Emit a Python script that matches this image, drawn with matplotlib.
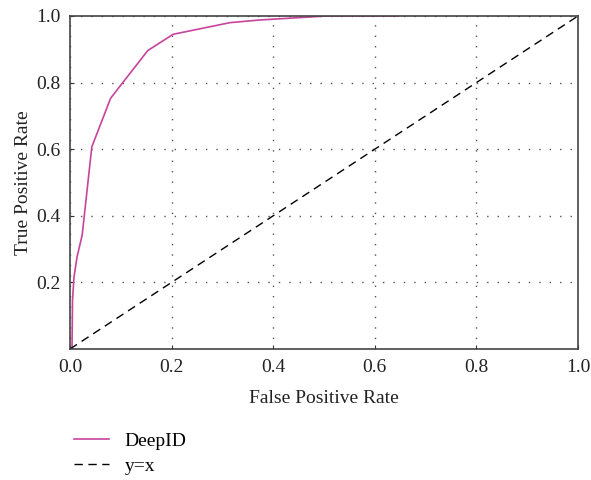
import matplotlib
matplotlib.use("Agg")
import matplotlib.pyplot as plt

fpr = [0.004, 0.005, 0.008, 0.014, 0.024, 0.043, 0.080, 0.153, 0.203, 0.315, 0.374, 0.505, 0.646]
tpr = [0.0, 0.147, 0.217, 0.277, 0.342, 0.607, 0.753, 0.896, 0.945, 0.980, 0.988, 1.0, 1.0]
diag = [0.0, 1.0]
xticks = [0.0, 0.2, 0.4, 0.6, 0.8, 1.0]
yticks = [0.2, 0.4, 0.6, 0.8, 1.0]

plt.rcParams['font.family'] = ['Liberation Serif', 'DejaVu Serif']

fig = plt.figure(figsize=(5.91, 4.8), dpi=100)
ax = fig.add_axes([0.1184, 0.2729, 0.8596, 0.6938])
l1, = ax.plot(fpr, tpr, color='#c8449c', lw=1.2, label='DeepID')
l2, = ax.plot(diag, diag, color='black', lw=1.0, ls=(0, (6, 4)), label='y=x')
ax.set_xlim(0, 1)
ax.set_ylim(0, 1)
ax.set_xticks(xticks)
ax.set_yticks(yticks)
ax.set_xticklabels([f"{v:.1f}" for v in xticks])
ax.set_yticklabels([f"{v:.1f}" for v in yticks])
ax.tick_params(direction='in', length=3, labelsize=14, colors='#333333', labelcolor='#222222', pad=7)
ax.grid(True, ls=(0, (1, 6.5)), color='#555555', lw=1.0)
for s in ax.spines.values():
    s.set_color('#444444')
    s.set_linewidth(1.2)
ax.set_xlabel('False Positive Rate', fontsize=14, color='#222222', labelpad=10)
ax.set_ylabel('True Positive Rate', fontsize=14, color='#222222', labelpad=3)
fig.legend(handles=[l1, l2], loc='upper left', bbox_to_anchor=(0.112, 0.115), frameon=False,
           fontsize=14, handlelength=1.8, handletextpad=0.8, labelspacing=0.35, borderaxespad=0)
fig.savefig('out.png', dpi=100)
